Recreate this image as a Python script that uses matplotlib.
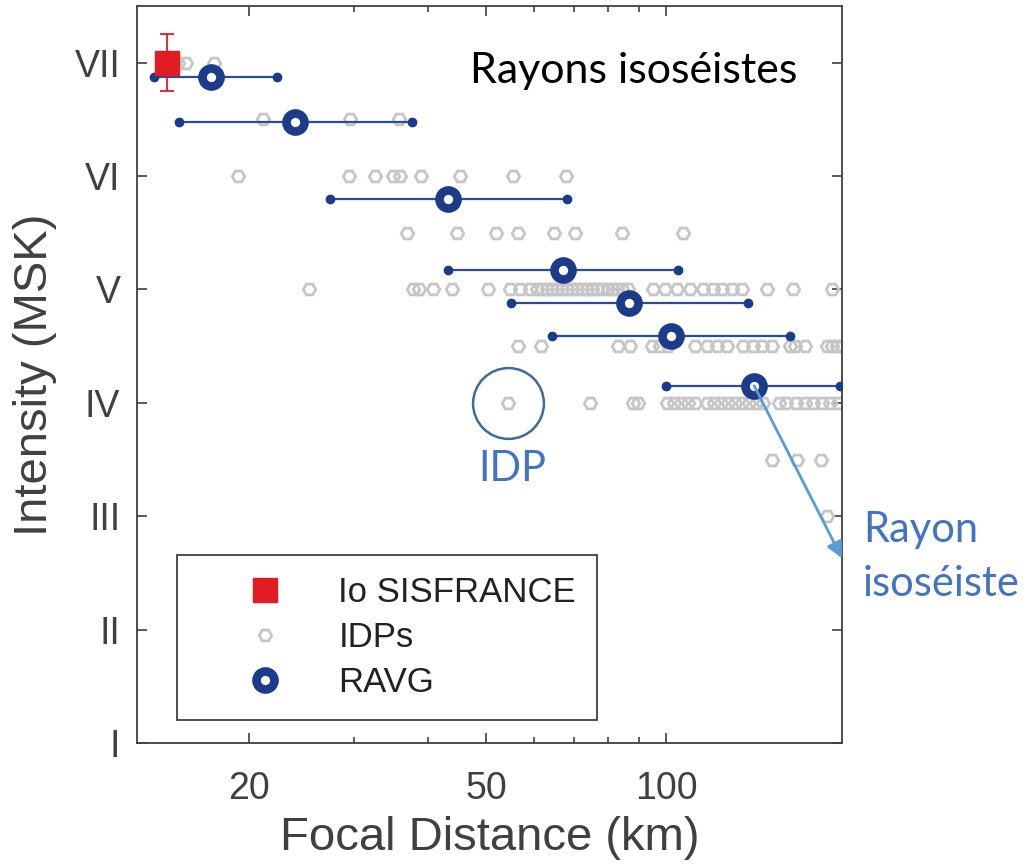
import matplotlib
matplotlib.use("Agg")
import matplotlib.pyplot as plt
from matplotlib.lines import Line2D
from matplotlib.ticker import FixedLocator, NullFormatter

# ---- data -------------------------------------------------------------
# Epicentral intensity from SISFRANCE
io_dist = [14.6]
io_int = [7.0]
io_err = [0.25]

# Intensity data points (focal distance in km, intensity)
idp_i7_x = [15.2, 15.7, 17.5]
idp_i65_x = [21.1, 29.6, 35.7]
idp_i6_x = [19.2, 29.4, 32.5, 34.9, 35.8, 38.8, 45.2, 55.4, 68.0]
idp_i55_x = [36.8, 44.6, 51.9, 56.5, 64.9, 70.4, 84.4, 106.8]
idp_i5_x = [25.2, 37.7, 38.5, 40.7, 43.8, 50.3, 54.8, 56.9, 59.2,
            60.8, 62.0, 63.2, 64.4, 65.7, 66.9, 68.2, 69.6, 70.9, 72.3,
            73.7, 75.1, 76.6, 78.1, 79.9, 81.5, 82.8, 84.4, 86.4,
            95.1, 99.6, 104.4, 109.7, 115.4, 119.9, 124.1, 129.0, 134.1,
            147.7, 163.2, 189.8]
idp_i45_x = [56.5, 61.7, 83.1, 87.0, 94.8, 97.7, 100.8, 111.9, 117.1,
             121.8, 126.5, 134.6, 139.9, 144.9, 150.5, 161.3, 164.5, 171.0,
             186.1, 189.8, 193.5, 197.3]
idp_i4_x = [54.3, 74.6, 88.1, 89.8, 100.4, 103.2, 106.0, 108.9, 111.9,
            117.1, 120.3, 123.7, 127.0, 130.5, 134.1, 137.8, 141.5, 145.4,
            154.7, 158.9, 165.2, 171.0, 176.4, 182.6, 188.4, 194.2]
idp_i35_x = [150.5, 165.8, 181.9]
idp_i3_x = [186.1]

idp_rows = {7.0: idp_i7_x, 6.5: idp_i65_x, 6.0: idp_i6_x, 5.5: idp_i55_x,
            5.0: idp_i5_x, 4.5: idp_i45_x, 4.0: idp_i4_x, 3.5: idp_i35_x,
            3.0: idp_i3_x}

# Isoseismal radii (RAVG) with distance ranges
ravg_x = [17.3, 23.9, 43.1, 67.2, 86.7, 101.9, 140.4]
ravg_y = [6.87, 6.48, 5.80, 5.17, 4.88, 4.59, 4.15]
ravg_lo = [13.9, 15.3, 27.4, 43.1, 55.0, 64.4, 100.0]
ravg_hi = [22.3, 37.5, 68.2, 104.8, 137.2, 161.4, 195.8]

# highlighted single IDP
idp_mark_x, idp_mark_y = 54.3, 4.0

x_ticks = [20, 50, 100]
x_minor = [30, 40, 60, 70, 80, 90]
y_ticks = [1, 2, 3, 4, 5, 6, 7]
y_labels = ["I", "II", "III", "IV", "V", "VI", "VII"]

# ---- style ------------------------------------------------------------
GREY_TXT = "#404040"
RED = "#e31b23"
IDP_GREY = "#c6c6c6"
NAVY = "#1d3b8b"
LINE_BLUE = "#2b4c9c"
NOTE_BLUE = "#4472c4"
ARROW_BLUE = "#5b9bd5"
SANS = ["Liberation Sans", "DejaVu Sans"]
NOTE = ["Lato", "DejaVu Sans"]

W, H = 1029, 867
fig = plt.figure(figsize=(W / 100, H / 100), dpi=100)
ax = fig.add_axes([137 / W, 1 - 743 / H, (842 - 137) / W, (743 - 6) / H])
ax.set_xscale("log")
ax.set_xlim(13, 197)
ax.set_ylim(1, 7.5)

# IDPs
for yv, xs in idp_rows.items():
    ax.plot(xs, [yv] * len(xs), linestyle="none", marker="H", ms=9,
            mfc="none", mec=IDP_GREY, mew=2.0, zorder=2)

# RAVG ranges
ax.hlines(ravg_y, ravg_lo, ravg_hi, color=LINE_BLUE, lw=1.6, zorder=3)
ax.plot(ravg_lo, ravg_y, "o", color=NAVY, ms=6, zorder=4)
ax.plot(ravg_hi, ravg_y, "o", color=NAVY, ms=6, zorder=4)
ax.plot(ravg_x, ravg_y, "o", ms=13, mfc="white", mec=NAVY, mew=6.2, zorder=5)

# Io SISFRANCE
ax.errorbar(io_dist, io_int, yerr=io_err, fmt="none", ecolor=RED,
            elinewidth=1.3, capsize=5, capthick=1.3, zorder=6)
ax.plot(io_dist, io_int, "s", color=RED, ms=17, zorder=7)

# highlighted IDP
ax.plot([idp_mark_x], [idp_mark_y], "o", ms=51, mfc="none", mec="#3d6c9c",
        mew=1.8, zorder=6, clip_on=False)

# arrow to the last isoseismal radius
ax.annotate("", xy=(197, 2.63), xytext=(ravg_x[-1], ravg_y[-1]),
            arrowprops=dict(arrowstyle="-|>", color=ARROW_BLUE, lw=2,
                            mutation_scale=24, shrinkA=0, shrinkB=0),
            annotation_clip=False, zorder=8)

# axes styling
for sp in ax.spines.values():
    sp.set_color(GREY_TXT)
    sp.set_linewidth(1.3)
ax.xaxis.set_major_locator(FixedLocator(x_ticks))
ax.xaxis.set_minor_locator(FixedLocator(x_minor))
ax.xaxis.set_minor_formatter(NullFormatter())
ax.set_xticklabels([str(t) for t in x_ticks])
ax.set_yticks(y_ticks)
ax.set_yticklabels(y_labels)
ax.tick_params(which="both", direction="in", top=True, right=True,
               color=GREY_TXT, width=1.2)
ax.tick_params(which="major", length=7)
ax.tick_params(which="minor", length=4)
ax.tick_params(axis="x", which="major", pad=20, labelsize=27, labelcolor=GREY_TXT)
ax.tick_params(axis="y", which="major", pad=12, labelsize=27, labelcolor=GREY_TXT)
for lab in ax.get_xticklabels() + ax.get_yticklabels():
    lab.set_family(SANS)

ax.set_xlabel("Focal Distance (km)", fontsize=34, color=GREY_TXT,
              family=SANS, labelpad=7)
ax.set_ylabel("Intensity (MSK)", fontsize=34, color=GREY_TXT,
              family=SANS, labelpad=13)

# legend
handles = [
    Line2D([], [], linestyle="none", marker="s", ms=17, color=RED),
    Line2D([], [], linestyle="none", marker="H", ms=9, mfc="none",
           mec=IDP_GREY, mew=2.0),
    Line2D([], [], linestyle="none", marker="o", ms=13, mfc="white",
           mec=NAVY, mew=6.2),
]
leg = ax.legend(handles, ["Io SISFRANCE", "IDPs", "RAVG"],
                loc="lower left", bbox_to_anchor=(0.0567, 0.0312),
                prop={"family": SANS, "size": 25}, frameon=True,
                fancybox=False, edgecolor=GREY_TXT, framealpha=1,
                borderpad=0.6, labelspacing=0.35, handlelength=3.85,
                handletextpad=0.2, borderaxespad=0, markerscale=1.0)
leg.get_frame().set_linewidth(1.3)
for t in leg.get_texts():
    t.set_color("#222222")

# annotations
fig.text(470 / W, 1 - 83 / H, "Rayons isoséistes", fontsize=31,
         color="black", family=NOTE, ha="left", va="baseline")
fig.text(512 / W, 1 - 481 / H, "IDP", fontsize=30, color=NOTE_BLUE,
         family=NOTE, ha="center", va="baseline")
fig.text(863 / W, 1 - 542 / H, "Rayon", fontsize=30, color=NOTE_BLUE,
         family=NOTE, ha="left", va="baseline")
fig.text(863 / W, 1 - 596 / H, "isoséiste", fontsize=30, color=NOTE_BLUE,
         family=NOTE, ha="left", va="baseline")

fig.savefig("out.png", dpi=100)
